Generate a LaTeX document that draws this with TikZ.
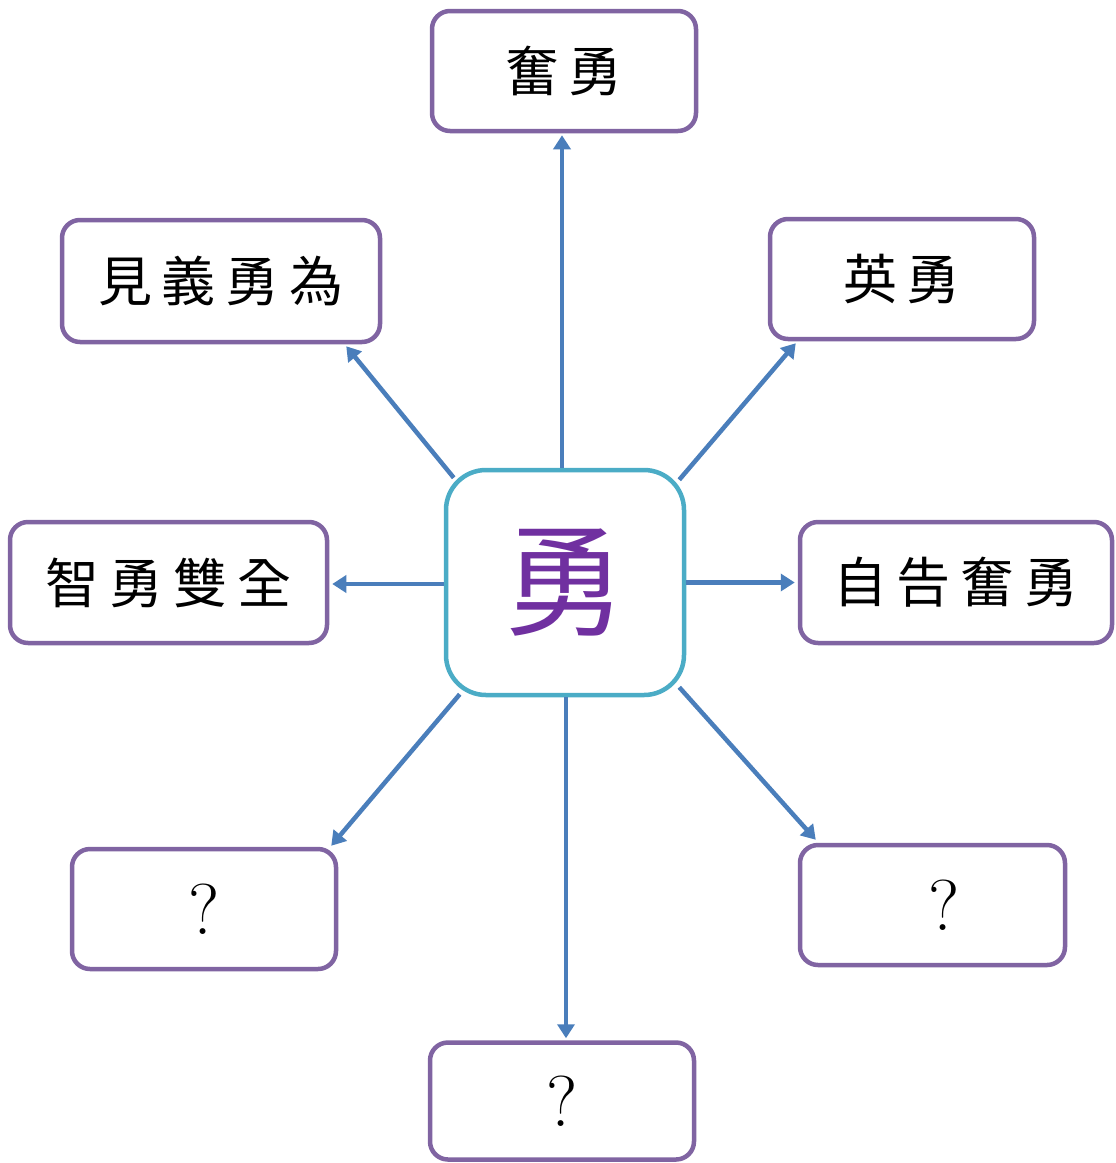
\documentclass[tikz,border=0pt]{standalone}
\usepackage{fontspec}
\newfontfamily\cjk{Noto Sans CJK TC}
\usetikzlibrary{arrows.meta}
\definecolor{boxpurple}{HTML}{8064A2}
\definecolor{centercyan}{HTML}{4BACC6}
\definecolor{arrowblue}{HTML}{4A7EBB}
\definecolor{textpurple}{HTML}{7030A0}
\newcommand\gp{\hspace{10pt}}
\tikzset{
  wordbox/.style={draw=boxpurple, line width=4.5pt, rounded corners=18pt, fill=white,
    font=\cjk\fontsize{54}{60}\selectfont, inner sep=0pt, align=center},
  qbox/.style={wordbox, font=\fontsize{72}{80}\selectfont},
  centerbox/.style={draw=centercyan, line width=4.5pt, rounded corners=40pt, fill=white,
    minimum width=238pt, minimum height=225pt, inner sep=0pt,
    font=\cjk\fontsize{122}{130}\selectfont, text=textpurple},
  arr/.style={draw=arrowblue, line width=4.5pt, -{Triangle[length=14pt,width=17pt]}}
}
\begin{document}
\begin{tikzpicture}[x=1pt,y=-1pt]
\useasboundingbox (0,0) rectangle (1116,1163);
\node[centerbox] (c) at (565,582.5) {勇};
\node[wordbox, minimum width=264pt, minimum height=120pt] (t) at (564,71) {奮\gp 勇};
\node[wordbox, minimum width=318pt, minimum height=122pt] (ul) at (221,281) {見\gp 義\gp 勇\gp 為};
\node[wordbox, minimum width=264pt, minimum height=120pt] (ur) at (902,279) {英\gp 勇};
\node[wordbox, minimum width=317pt, minimum height=121pt] (l) at (168.5,582.5) {智\gp 勇\gp 雙\gp 全};
\node[wordbox, minimum width=312pt, minimum height=121pt] (r) at (956,582.5) {自\gp 告\gp 奮\gp 勇};
\node[qbox, minimum width=264pt, minimum height=120pt] (ql) at (204,909) {?};
\node[qbox, minimum width=265pt, minimum height=120pt] (qr) at (932.5,905) {\hspace{24pt}?};
\node[qbox, minimum width=264pt, minimum height=117pt] (qb) at (562,1101) {?};
\draw[arr] ([xshift=-3pt]c.north) -- ([xshift=-2pt,yshift=-2pt]t.south);
\draw[arr] ([shift={(10pt,-10pt)}]c.north west) -- ([shift={(-36pt,-2pt)}]ul.south east);
\draw[arr] ([shift={(-7pt,-12pt)}]c.north east) -- ([shift={(28pt,-2pt)}]ur.south west);
\draw[arr] ([yshift=-1.5pt]c.west) -- ([xshift=3pt,yshift=-1.5pt]l.east);
\draw[arr] (c.east) -- ([xshift=-3pt]r.west);
\draw[arr] ([shift={(16pt,3pt)}]c.south west) -- ([shift={(-7pt,1pt)}]ql.north east);
\draw[arr] ([shift={(-7pt,10pt)}]c.south east) -- ([shift={(18pt,3pt)}]qr.north west);
\draw[arr] ([xshift=1pt]c.south) -- ([xshift=4pt,yshift=2pt]qb.north);
\end{tikzpicture}
\end{document}
